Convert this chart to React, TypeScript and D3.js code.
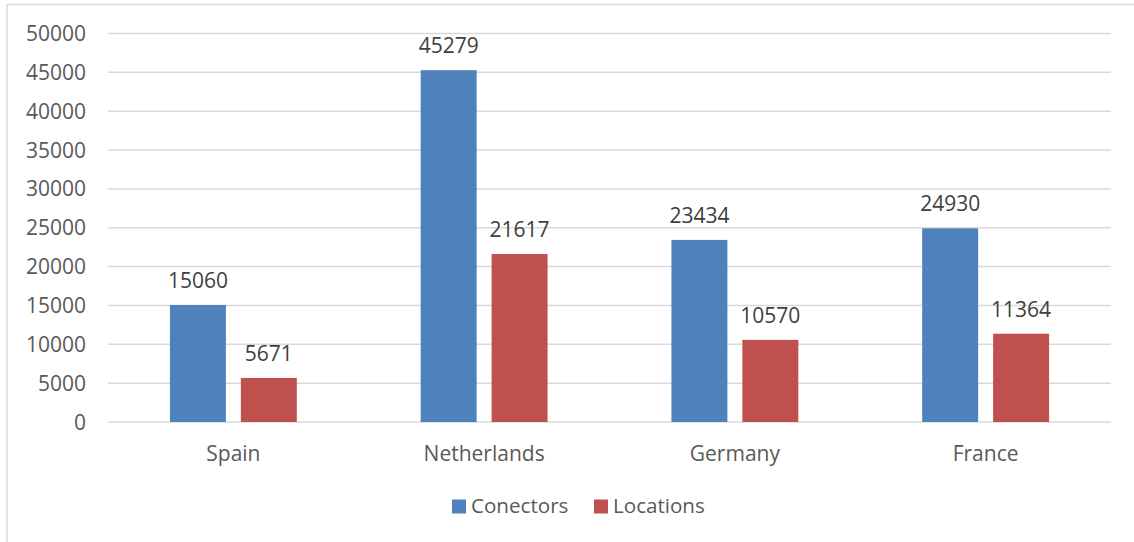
import React from "react";
import * as d3 from "d3";

const categories = ["Spain", "Netherlands", "Germany", "France"];
const seriesNames = ["Conectors", "Locations"];
const conectors = [15060, 45279, 23434, 24930];
const locations = [5671, 21617, 10570, 11364];
const yTicks = [0, 5000, 10000, 15000, 20000, 25000, 30000, 35000, 40000, 45000, 50000];
const colors = ["#4F81BD", "#C0504D"];

const W = 1134;
const H = 542;
const FONT = "'Open Sans', 'Liberation Sans', sans-serif";

export default function App() {
  const left = 108;
  const right = 1111;
  const top = 33.5;
  const bottom = 422;
  const y = d3.scaleLinear().domain([0, 50000]).range([bottom, top]);
  const x0 = d3.scaleBand().domain(categories).range([left, right]).paddingInner(0.494).paddingOuter(0.247);
  const x1 = d3.scaleBand().domain(seriesNames).range([0, x0.bandwidth()]).paddingInner(0.211);
  const series = [conectors, locations];

  return (
    <div style={{ position: "absolute", left: 0, top: 0 }}>
      <svg width={W} height={H} style={{ display: "block", fontFamily: FONT }}>
        <rect x={0} y={0} width={W} height={H} fill="#fff" />
        <rect x={7} y={4.5} width={W + 20} height={H + 20} fill="none" stroke="#d9d9d9" strokeWidth={1.5} />
        {yTicks.map((t) => (
          <g key={t}>
            <line x1={left} x2={right} y1={y(t)} y2={y(t)} stroke="#d9d9d9" strokeWidth={1.5} />
            <text x={86} y={y(t)} dy="0.36em" textAnchor="end" fontSize={21} fill="#595959">
              {t}
            </text>
          </g>
        ))}
        {categories.map((c, i) => (
          <g key={c} transform={`translate(${x0(c)},0)`}>
            {seriesNames.map((s, j) => {
              const v = series[j][i];
              const bx = x1(s)!;
              return (
                <g key={s}>
                  <rect x={bx} y={y(v)} width={x1.bandwidth()} height={bottom - y(v)} fill={colors[j]} />
                  <text x={bx + x1.bandwidth() / 2} y={y(v) - 17} textAnchor="middle" fontSize={21} fill="#404040">
                    {v}
                  </text>
                </g>
              );
            })}
            <text x={x0.bandwidth() / 2} y={461} textAnchor="middle" fontSize={21} fill="#595959">
              {c}
            </text>
          </g>
        ))}
        {seriesNames.map((s, j) => {
          const lx = [452, 594][j];
          return (
            <g key={s}>
              <rect x={lx} y={499.5} width={14} height={14} fill={colors[j]} />
              <text x={lx + 19} y={513} fontSize={20.6} fill="#595959">
                {s}
              </text>
            </g>
          );
        })}
      </svg>
    </div>
  );
}
